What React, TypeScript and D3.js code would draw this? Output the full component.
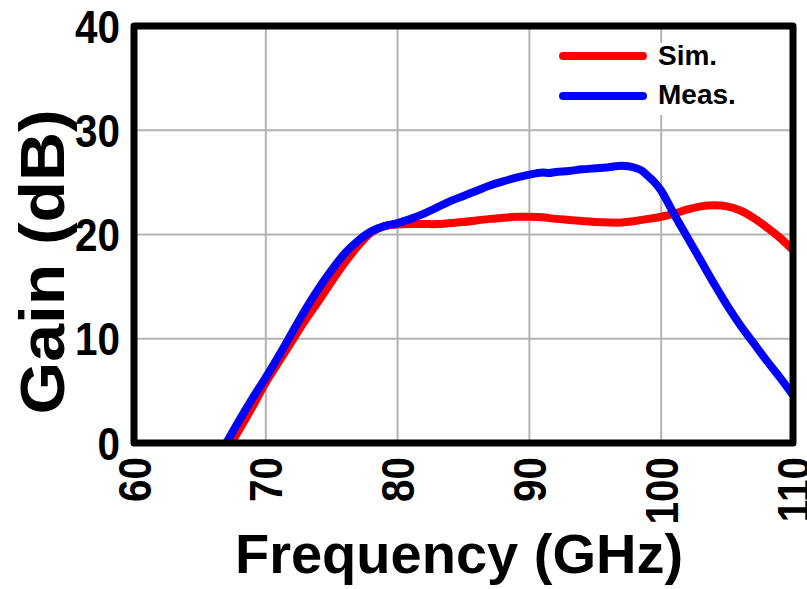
import React from "react";
import * as d3 from "d3";

const xTicks = [60, 70, 80, 90, 100, 110];
const yTicks = [0, 10, 20, 30, 40];

const simFreq = [67.4, 68, 69, 70, 71, 72, 73, 74, 75, 76, 77, 78, 79, 80, 81, 82, 83, 84, 85, 86, 87, 88, 89, 90, 91, 92, 93, 94, 95, 96, 97, 98, 99, 100, 101, 102, 103, 104, 105, 106, 107, 108, 109, 110];
const simGain = [0, 1.3, 3.5, 5.8, 7.8, 9.8, 11.8, 13.6, 15.5, 17.3, 18.9, 20.2, 20.8, 20.95, 21.0, 21.0, 21.0, 21.1, 21.2, 21.35, 21.5, 21.6, 21.7, 21.7, 21.65, 21.5, 21.4, 21.3, 21.2, 21.15, 21.15, 21.3, 21.5, 21.7, 22.0, 22.4, 22.7, 22.8, 22.7, 22.3, 21.6, 20.7, 19.7, 18.5];

const measFreq = [67.0, 68, 69, 70, 71, 72, 73, 74, 75, 76, 77, 78, 79, 80, 81, 82, 83, 84, 85, 86, 87, 88, 89, 90, 91, 91.5, 92, 93, 94, 95, 96, 96.5, 97, 97.5, 98, 98.5, 99, 99.5, 100, 101, 102, 103, 104, 105, 106, 107, 108, 109, 110];
const measGain = [0, 2.2, 4.3, 6.3, 8.4, 10.6, 12.8, 14.8, 16.6, 18.2, 19.4, 20.3, 20.8, 21.1, 21.5, 22.0, 22.6, 23.2, 23.7, 24.2, 24.7, 25.1, 25.45, 25.75, 25.95, 25.9, 26.0, 26.1, 26.25, 26.35, 26.45, 26.55, 26.6, 26.55, 26.4, 26.15, 25.6, 25.0, 24.2, 21.9, 19.7, 17.5, 15.3, 13.2, 11.3, 9.6, 7.9, 6.3, 4.6];

const series = [
  { name: "Sim.", color: "#ff0000", f: simFreq, g: simGain },
  { name: "Meas.", color: "#0000ff", f: measFreq, g: measGain },
];

export default function App() {
  const W = 807;
  const H = 589;
  const x = d3.scaleLinear().domain([60, 110]).range([134, 793]);
  const y = d3.scaleLinear().domain([0, 40]).range([443, 26]);
  const font = "'Liberation Sans', Arial, sans-serif";

  const line = d3
    .line<[number, number]>()
    .x((d) => x(d[0]))
    .y((d) => y(d[1]))
    .curve(d3.curveCatmullRom.alpha(0.5));

  return (
    <svg width={W} height={H} style={{ position: "absolute", left: 0, top: 0 }} fontFamily={font}>
      <rect x={0} y={0} width={W} height={H} fill="#fff" />
      {/* grid */}
      {xTicks.slice(1, -1).map((t) => (
        <line key={"gx" + t} x1={x(t)} x2={x(t)} y1={y(40)} y2={y(0)} stroke="#b3b3b3" strokeWidth={2} />
      ))}
      {yTicks.slice(1, -1).map((t) => (
        <line key={"gy" + t} x1={x(60)} x2={x(110)} y1={y(t)} y2={y(t)} stroke="#b3b3b3" strokeWidth={2} />
      ))}
      {/* legend background */}
      <rect x={548} y={43} width={197} height={72} fill="#fff" />
      {/* data */}
      <clipPath id="plotclip">
        <rect x={x(60)} y={y(40)} width={x(110) - x(60)} height={y(0) - y(40)} />
      </clipPath>
      <g clipPath="url(#plotclip)">
        {series.map((s) => (
          <path
            key={s.name}
            d={line(s.f.map((f, i) => [f, s.g[i]] as [number, number])) || ""}
            fill="none"
            stroke={s.color}
            strokeWidth={8}
            strokeLinejoin="round"
            strokeLinecap="butt"
          />
        ))}
      </g>
      {/* frame */}
      <rect
        x={x(60)}
        y={y(40)}
        width={x(110) - x(60)}
        height={y(0) - y(40)}
        fill="none"
        stroke="#000"
        strokeWidth={7}
        strokeLinejoin="round"
      />
      {/* legend */}
      {series.map((s, i) => (
        <g key={"leg" + s.name}>
          <line x1={563} x2={643} y1={56 + i * 40} y2={56 + i * 40} stroke={s.color} strokeWidth={8} strokeLinecap="round" />
          <text x={658} y={65 + i * 39} fontSize={28} fontWeight="bold" fill="#000">
            {s.name}
          </text>
        </g>
      ))}
      {/* y tick labels */}
      {yTicks.map((t) => (
        <text
          key={"yl" + t}
          transform={`translate(120,${y(t)}) scale(0.88,1)`}
          dy="0.36em"
          textAnchor="end"
          fontSize={46}
          fontWeight="bold"
          fill="#000"
        >
          {t}
        </text>
      ))}
      {/* x tick labels */}
      {xTicks.map((t) => (
        <text
          key={"xl" + t}
          transform={`translate(${x(t)},457) rotate(-90) scale(0.88,1)`}
          dy="0.36em"
          textAnchor="end"
          fontSize={46}
          fontWeight="bold"
          fill="#000"
        >
          {t}
        </text>
      ))}
      {/* axis titles */}
      <text x={459} y={573} textAnchor="middle" fontSize={56} fontWeight="bold" fill="#000">
        Frequency (GHz)
      </text>
      <text
        transform="translate(64,262) rotate(-90)"
        textAnchor="middle"
        fontSize={63}
        fontWeight="bold"
        fill="#000"
        textLength={305}
        lengthAdjust="spacingAndGlyphs"
      >
        Gain (dB)
      </text>
    </svg>
  );
}
